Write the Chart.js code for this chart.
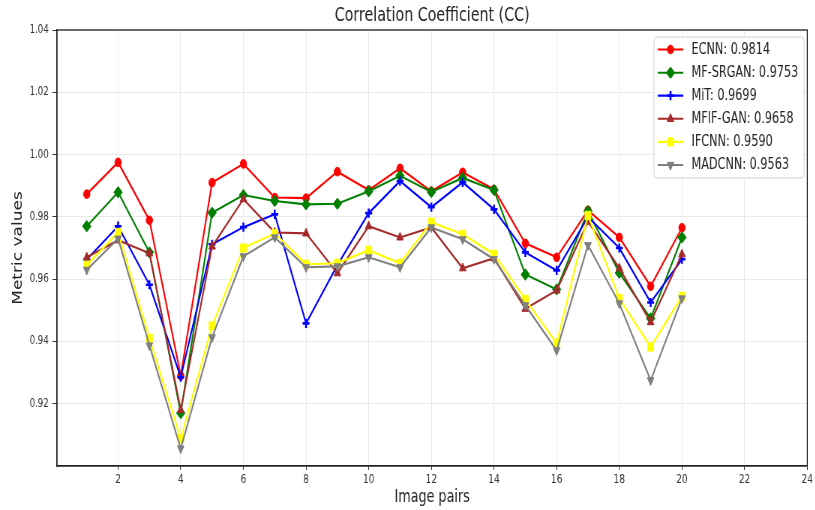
<!DOCTYPE html>
<html><head><meta charset="utf-8">
<script src="https://cdn.jsdelivr.net/npm/chart.js@4.4.0/dist/chart.umd.min.js"></script>
<style>
html,body{margin:0;padding:0;background:#fff;overflow:hidden;}
#frame{width:815px;height:510px;overflow:hidden;position:relative;background:#fff;}
#wrap{position:absolute;left:0;top:0;width:1087px;height:510px;transform:scaleX(0.75);transform-origin:0 0;}
</style></head><body>
<div id="frame"><div id="wrap"><canvas id="c" width="1087" height="510"></canvas></div></div>
<script>
// ---- data ----
const imagePairs = [1,2,3,4,5,6,7,8,9,10,11,12,13,14,15,16,17,18,19,20];
const xTicks = [2,4,6,8,10,12,14,16,18,20,22,24];
const yTicks = [0.92,0.94,0.96,0.98,1.00,1.02,1.04];
const methodNames = ['ECNN','MF-SRGAN','MiT','MFIF-GAN','IFCNN','MADCNN'];
const meanScores = ['0.9814','0.9753','0.9699','0.9658','0.9590','0.9563'];
const ecnn    = [0.9873,0.9975,0.9789,0.9290,0.9910,0.9970,0.9862,0.9860,0.9945,0.9886,0.9956,0.9882,0.9943,0.9888,0.9715,0.9670,0.9821,0.9734,0.9577,0.9765];
const mfSrgan = [0.9770,0.9879,0.9686,0.9170,0.9813,0.9870,0.9851,0.9840,0.9842,0.9882,0.9932,0.9880,0.9925,0.9886,0.9615,0.9567,0.9818,0.9620,0.9474,0.9734];
const mit     = [0.9663,0.9770,0.9582,0.9285,0.9712,0.9767,0.9808,0.9458,0.9645,0.9812,0.9915,0.9831,0.9911,0.9824,0.9686,0.9628,0.9800,0.9700,0.9525,0.9664];
const mfifGan = [0.9670,0.9725,0.9683,0.9180,0.9705,0.9857,0.9750,0.9747,0.9619,0.9770,0.9734,0.9766,0.9635,0.9667,0.9505,0.9564,0.9785,0.9635,0.9462,0.9680];
const ifcnn   = [0.9645,0.9750,0.9410,0.9088,0.9450,0.9700,0.9747,0.9648,0.9651,0.9693,0.9651,0.9783,0.9744,0.9680,0.9535,0.9394,0.9805,0.9538,0.9382,0.9545];
const madcnn  = [0.9630,0.9730,0.9387,0.9056,0.9413,0.9673,0.9734,0.9638,0.9641,0.9670,0.9638,0.9766,0.9728,0.9664,0.9516,0.9371,0.9709,0.9522,0.9275,0.9538];

const seriesValues = [ecnn, mfSrgan, mit, mfifGan, ifcnn, madcnn];
const colors = ['#ff0000','#008000','#0000ff','#a52a2a','#ffff00','#808080'];
const markers = [
  {style:'circle', r:4.3, bw:1, rot:0},
  {style:'rectRot', r:5.7, bw:1, rot:0},
  {style:'cross', r:4.6, bw:2.6, rot:0},
  {style:'triangle', r:5.2, bw:1, rot:0},
  {style:'rect', r:5.7, bw:1, rot:0},
  {style:'triangle', r:5.2, bw:1, rot:180}
];
const FONT = "'DejaVu Sans', sans-serif";
Chart.defaults.font.family = FONT;

const datasets = seriesValues.map((vals, i) => ({
  label: methodNames[i] + ': ' + meanScores[i],
  data: imagePairs.map((x, j) => ({x: x, y: vals[j]})),
  borderColor: colors[i],
  backgroundColor: colors[i],
  borderWidth: 2.1,
  pointStyle: markers[i].style,
  pointRadius: markers[i].r,
  pointBorderWidth: markers[i].bw,
  pointRotation: markers[i].rot,
  pointBackgroundColor: colors[i],
  pointBorderColor: colors[i],
  order: 10 - i,
  tension: 0,
  fill: false
}));

function drawMarker(ctx, m, x, y, color) {
  ctx.save();
  ctx.fillStyle = color; ctx.strokeStyle = color; ctx.lineWidth = m.bw;
  ctx.translate(x, y);
  ctx.rotate(m.rot * Math.PI / 180);
  const r = m.r;
  ctx.beginPath();
  if (m.style === 'circle') {
    ctx.arc(0, 0, r, 0, Math.PI * 2); ctx.fill(); ctx.stroke();
  } else if (m.style === 'rectRot') {
    ctx.moveTo(0, -r); ctx.lineTo(r, 0); ctx.lineTo(0, r); ctx.lineTo(-r, 0); ctx.closePath(); ctx.fill(); ctx.stroke();
  } else if (m.style === 'rect') {
    const s = r * Math.SQRT1_2; ctx.rect(-s, -s, 2 * s, 2 * s); ctx.fill(); ctx.stroke();
  } else if (m.style === 'triangle') {
    for (let k = 0; k < 3; k++) {
      const ang = -Math.PI / 2 + k * 2 * Math.PI / 3;
      const px = Math.cos(ang) * r, py = Math.sin(ang) * r;
      if (k === 0) ctx.moveTo(px, py); else ctx.lineTo(px, py);
    }
    ctx.closePath(); ctx.fill(); ctx.stroke();
  } else if (m.style === 'cross') {
    ctx.moveTo(0, -r); ctx.lineTo(0, r); ctx.moveTo(-r, 0); ctx.lineTo(r, 0); ctx.stroke();
  }
  ctx.restore();
}

const framePlugin = {
  id: 'frame',
  afterDatasetsDraw(chart) {
    const {ctx, chartArea: a} = chart;
    ctx.save();
    ctx.strokeStyle = '#222';
    ctx.lineWidth = 1.3;
    ctx.strokeRect(a.left, a.top, a.right - a.left, a.bottom - a.top);
    ctx.restore();
  }
};

const legendPlugin = {
  id: 'boxLegend',
  afterDraw(chart) {
    const ctx = chart.ctx;
    const L = 872, R = 1072, T = 37, B = 178;
    ctx.save();
    ctx.fillStyle = 'rgba(255,255,255,0.85)';
    ctx.strokeStyle = '#d0d0d0';
    ctx.lineWidth = 1;
    ctx.beginPath();
    if (ctx.roundRect) ctx.roundRect(L, T, R - L, B - T, 4); else ctx.rect(L, T, R - L, B - T);
    ctx.fill(); ctx.stroke();
    const rows = [49.5, 72.8, 95.6, 118.8, 141.9, 165.0];
    ctx.font = "15px " + FONT;
    ctx.textBaseline = 'middle';
    ctx.textAlign = 'left';
    chart.data.datasets.forEach((ds, i) => {
      const y = rows[i];
      ctx.strokeStyle = colors[i];
      ctx.lineWidth = 2.1;
      ctx.beginPath(); ctx.moveTo(877, y); ctx.lineTo(911, y); ctx.stroke();
      drawMarker(ctx, markers[i], 894, y, colors[i]);
      ctx.fillStyle = '#222';
      ctx.fillText(ds.label, 922, y + 0.5);
    });
    ctx.restore();
  }
};

new Chart(document.getElementById('c'), {
  type: 'line',
  data: { datasets },
  options: {
    responsive: false,
    animation: false,
    devicePixelRatio: 1,
    layout: { padding: { left: 0, right: 6, top: 0, bottom: 0 } },
    plugins: {
      legend: { display: false },
      tooltip: { enabled: false },
      title: {
        display: true,
        fullSize: false,
        text: 'Correlation Coefficient (CC)',
        color: '#222',
        font: { size: 19, weight: 'normal', family: FONT },
        padding: { top: 5, bottom: 2.2 }
      }
    },
    scales: {
      x: {
        type: 'linear',
        min: 0.05, max: 24,
        afterBuildTicks: s => { s.ticks = xTicks.map(v => ({ value: v })); },
        afterFit: s => { s.height = 44; },
        ticks: { color: '#333', font: { size: 12 }, padding: 3, maxRotation: 0, autoSkip: false, callback: v => String(v) },
        grid: { color: '#e9e9e9', tickColor: '#333', tickLength: 4, lineWidth: 1 },
        border: { color: '#222', width: 1.3 },
        title: { display: true, text: 'Image pairs', color: '#222', font: { size: 17 }, padding: { top: 0, bottom: 2 } }
      },
      y: {
        type: 'linear',
        min: 0.9, max: 1.04,
        afterBuildTicks: s => { s.ticks = yTicks.map(v => ({ value: v })); },
        afterFit: s => { s.width = 76; },
        ticks: { color: '#333', font: { size: 11.5 }, padding: 5, callback: v => Number(v).toFixed(2) },
        grid: { color: '#e9e9e9', tickColor: '#333', tickLength: 6, lineWidth: 1 },
        border: { color: '#222', width: 1.3 },
        title: { display: true, text: 'Metric values', color: '#222', font: { size: 17 }, padding: { top: 14, bottom: 0 } }
      }
    }
  },
  plugins: [framePlugin, legendPlugin]
});
</script>
</body></html>
